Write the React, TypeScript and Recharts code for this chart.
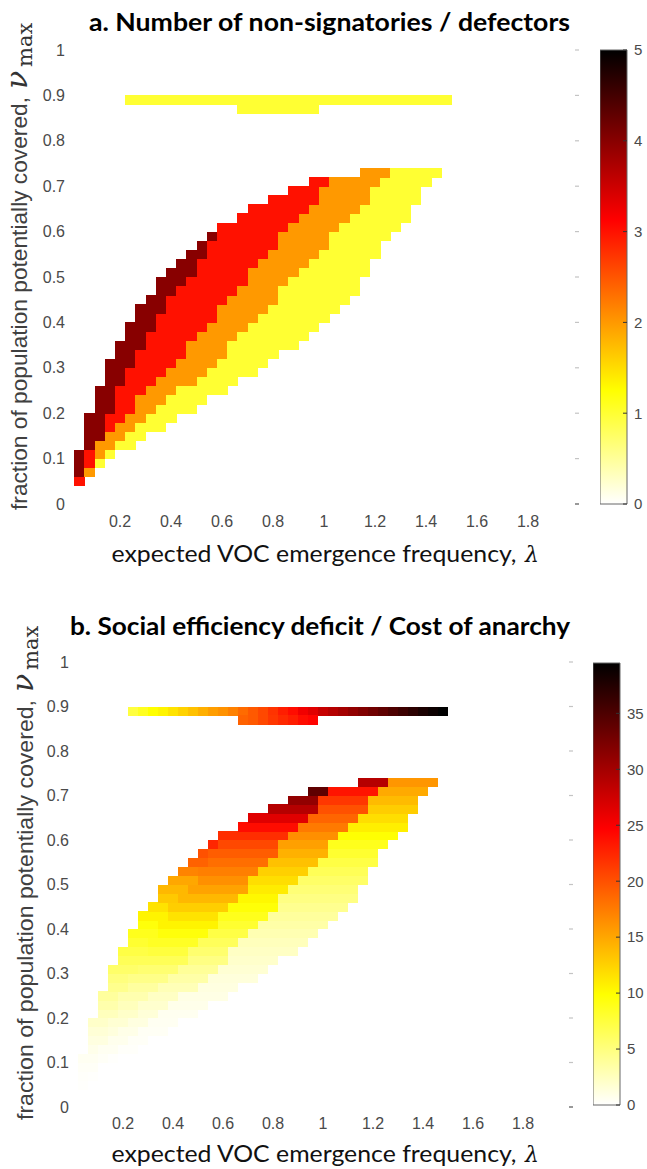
import React from "react";
import { ScatterChart, Scatter, XAxis, YAxis, BarChart, Bar } from "recharts";

// grid of the model runs: column k sits at lambda = 0.04*k, row j at v = 0.01 + 0.02*j
const columns = [
  1, 2, 3, 4, 5, 6, 7, 8, 9, 10, 11, 12, 13, 14, 15, 16, 17, 18, 19, 20, 21, 22, 23, 24, 25, 26,
  27, 28, 29, 30, 31, 32, 33, 34, 35, 36,
];

// panel a, main band: lowest coloured row per column, then the top row of each defector count
const bottomRow = [2, 3, 4, 5, 6, 6, 7, 8, 8, 9, 10, 10, 11, 12, 12, 13, 14, 14, 15, 16, 17, 17, 18, 19, 20, 21, 22, 23, 25, 27, 29, 30, 31, 33, 35, 36];
const topOf1 = [1, 2, 4, 5, 6, 7, 8, 9, 10, 11, 12, 12, 13, 14, 15, 17, 18, 19, 20, 21, 23, 24, 25, 26, 27, 29, 30, 31, 32, 34, 35, 36, 36, 36, 36, 36];
const topOf2 = [1, 3, 6, 7, 8, 9, 11, 12, 13, 14, 15, 17, 18, 19, 21, 22, 23, 25, 26, 27, 29, 30, 31, 32, 34, 35, 35, 35, 36, 36, 36, 36, 36, 36, 36, 36];
const topOf3 = [2, 5, 6, 9, 12, 14, 16, 18, 20, 22, 23, 24, 26, 28, 30, 30, 31, 32, 32, 33, 33, 34, 34, 35, 35, 35, 35, 35, 36, 36, 36, 36, 36, 36, 36, 36];
const topOf4 = [5, 9, 12, 15, 17, 19, 21, 22, 24, 25, 26, 27, 28, 29, 30, 30, 31, 32, 32, 33, 33, 34, 34, 35, 35, 35, 35, 35, 36, 36, 36, 36, 36, 36, 36, 36];

// panel b, main band: deficit read per row (j = 0..36) inside each defector stripe
const deficit1 = [0, 0, 0, 0, 0, 0.1, 0.2, 0.3, 0.4, 0.5, 0.6, 0.8, 1.0, 1.2, 1.4, 1.7, 2.0, 2.3, 2.6, 3.0, 3.4, 3.8, 4.3, 4.8, 5.3, 5.9, 6.5, 7.2, 8.0, 8.8, 9.8, 10.8, 11.8, 12.8, 13.8, 14.8, 16.0];
const deficit2 = [0, 0, 0, 0.1, 0.2, 0.3, 0.5, 0.7, 0.9, 1.2, 1.5, 1.9, 2.3, 2.8, 3.4, 4.0, 4.8, 5.6, 6.4, 7.2, 8.0, 8.8, 9.6, 10.3, 11.0, 11.8, 12.6, 13.5, 14.4, 15.4, 16.4, 17.6, 18.8, 20.0, 21.5, 23.5, 29.0];
const deficit3 = [0, 0, 0.1, 0.2, 0.3, 0.5, 0.7, 1.0, 1.3, 1.7, 2.1, 2.6, 3.1, 3.7, 4.6, 5.5, 6.5, 7.5, 8.5, 9.5, 10.5, 11.5, 12.7, 14.0, 15.2, 16.3, 17.3, 18.3, 19.3, 20.5, 22.0, 24.0, 26.5, 29.0, 31.0, 34.0, 0];
const deficit4 = [0, 0, 0, 0.2, 0.3, 0.5, 0.8, 1.2, 1.6, 2.1, 2.6, 3.2, 3.8, 4.4, 5.0, 5.8, 6.5, 7.2, 8.0, 8.8, 9.5, 10.5, 11.5, 13.0, 14.0, 15.0, 17.0, 19.0, 20.0, 22.5, 0, 0, 0, 0, 0, 0, 0];

// the two short rows near v = 0.9
const upperRow = 44;
const upperCols = [6, 7, 8, 9, 10, 11, 12, 13, 14, 15, 16, 17, 18, 19, 20, 21, 22, 23, 24, 25, 26, 27, 28, 29, 30, 31, 32, 33, 34, 35, 36, 37];
const upperDefectors = [1, 1, 1, 1, 1, 1, 1, 1, 1, 1, 1, 1, 1, 1, 1, 1, 1, 1, 1, 1, 1, 1, 1, 1, 1, 1, 1, 1, 1, 1, 1, 1];
const upperDeficit = [7.4, 8.6, 9.9, 10.5, 11.5, 12.5, 13.5, 14.5, 15.5, 16.2, 17.2, 18.5, 19.5, 20.5, 21.7, 23, 24, 25.5, 26.5, 28, 29, 30, 31, 32, 33, 34, 35, 36, 37, 38, 38.8, 39.5];
const lowerRow = 43;
const lowerCols = [17, 18, 19, 20, 21, 22, 23, 24];
const lowerDefectors = [1, 1, 1, 1, 1, 1, 1, 1];
const lowerDeficit = [19, 19.5, 20.5, 21.5, 22.3, 23, 24, 24.5];

const xTicks = [0.2, 0.4, 0.6, 0.8, 1, 1.2, 1.4, 1.6, 1.8];
const yTicks = [0, 0.1, 0.2, 0.3, 0.4, 0.5, 0.6, 0.7, 0.8, 0.9, 1];
const colorTicksA = [0, 1, 2, 3, 4, 5];
const colorTicksB = [0, 5, 10, 15, 20, 25, 30, 35];
const VMAX_A = 5;
const VMAX_B = 39.5;

const LAMBDA_STEP = 0.04;
const NU_STEP = 0.02;
const X_DOMAIN: [number, number] = [0, 2];
const Y_DOMAIN: [number, number] = [0, 1];

type Cell = { x: number; y: number; value: number };

const lam = (k: number) => Math.round(k * 4) / 100;
const nu = (j: number) => Math.round(1 + j * 2) / 100;
const deficitByCount = [[], deficit1, deficit2, deficit3, deficit4];

function buildCells() {
  const a: Cell[] = [];
  const b: Cell[] = [];
  columns.forEach((k, i) => {
    for (let j = bottomRow[i]; j <= topOf4[i]; j++) {
      const n = j <= topOf1[i] ? 1 : j <= topOf2[i] ? 2 : j <= topOf3[i] ? 3 : 4;
      a.push({ x: lam(k), y: nu(j), value: n });
      b.push({ x: lam(k), y: nu(j), value: deficitByCount[n][j] });
    }
  });
  upperCols.forEach((k, i) => {
    a.push({ x: lam(k), y: nu(upperRow), value: upperDefectors[i] });
    b.push({ x: lam(k), y: nu(upperRow), value: upperDeficit[i] });
  });
  lowerCols.forEach((k, i) => {
    a.push({ x: lam(k), y: nu(lowerRow), value: lowerDefectors[i] });
    b.push({ x: lam(k), y: nu(lowerRow), value: lowerDeficit[i] });
  });
  return { a, b };
}
const { a: cellsA, b: cellsB } = buildCells();

// flipped "hot" colormap: white -> yellow -> red -> black
function hot(value: number, vmax: number) {
  const t = 1 - Math.min(Math.max(value / vmax, 0), 1);
  const r = Math.min(1, t / 0.375);
  const g = Math.min(1, Math.max(0, (t - 0.375) / 0.375));
  const b = Math.min(1, Math.max(0, (t - 0.75) / 0.25));
  return `rgb(${Math.round(r * 255)},${Math.round(g * 255)},${Math.round(b * 255)})`;
}

const SANS = "'Liberation Sans', Arial, sans-serif";
const CALIBRI = "Lato, 'Open Sans', sans-serif";
const SERIF = "'DejaVu Serif', 'Liberation Serif', serif";
const tickStyle = { fontSize: 16, fill: "#4a4a4a", fontFamily: SANS };

const GEO_A = { top: 0, height: 580, plotLeft: 69, plotRight: 579, plotTop: 50, plotBottom: 504, xTickGap: 12 };
const GEO_B = { top: 580, height: 589, plotLeft: 73, plotRight: 573, plotTop: 82, plotBottom: 527, xTickGap: 11 };
const CB_A = { left: 600, top: 0, height: 580, barWidth: 27, labelWidth: 40, barTop: 50, barBottom: 504 };
const CB_B = { left: 593, top: 580, height: 589, barWidth: 27, labelWidth: 44, barTop: 83, barBottom: 525 };

type Geo = typeof GEO_A;

function Heatmap({ geo, cells, vmax }: { geo: Geo; cells: Cell[]; vmax: number }) {
  const plotW = geo.plotRight - geo.plotLeft;
  const plotH = geo.plotBottom - geo.plotTop;
  const cw = (plotW * LAMBDA_STEP) / (X_DOMAIN[1] - X_DOMAIN[0]);
  const ch = (plotH * NU_STEP) / (Y_DOMAIN[1] - Y_DOMAIN[0]);
  const shape = (p: any) => (
    <rect
      x={p.cx - cw / 2}
      y={p.cy - ch / 2}
      width={cw + 0.4}
      height={ch + 0.4}
      fill={hot(p.payload.value, vmax)}
      shapeRendering="crispEdges"
    />
  );
  // y tick: the gray label on the left plus a short light dash inside the right edge
  const yTick = (p: any) => (
    <g>
      <text x={p.x} y={p.y} dy="0.355em" textAnchor="end" {...tickStyle}>
        {p.payload.value}
      </text>
      <line
        x1={geo.plotRight - 4}
        x2={geo.plotRight}
        y1={p.y}
        y2={p.y}
        stroke={p.payload.value === 0 ? "#555" : "#c4c4c4"}
        strokeWidth={1.2}
      />
    </g>
  );
  return (
    <div style={{ position: "absolute", left: 0, top: geo.top }}>
      <ScatterChart
        width={647}
        height={geo.height}
        margin={{ top: geo.plotTop, right: 647 - geo.plotRight, bottom: 0, left: 0 }}
      >
        <XAxis
          type="number"
          dataKey="x"
          domain={X_DOMAIN}
          ticks={xTicks}
          interval={0}
          height={geo.height - geo.plotBottom}
          axisLine={false}
          tickLine={false}
          tickSize={0}
          tickMargin={geo.xTickGap}
          tick={tickStyle}
          allowDataOverflow
        />
        <YAxis
          type="number"
          dataKey="y"
          domain={Y_DOMAIN}
          ticks={yTicks}
          interval={0}
          width={geo.plotLeft}
          axisLine={false}
          tickLine={false}
          tickSize={0}
          tickMargin={4}
          tick={yTick}
          allowDataOverflow
        />
        <Scatter data={cells} shape={shape} isAnimationActive={false} />
      </ScatterChart>
    </div>
  );
}

function ColorBar({ geo, ticks, vmax, id }: { geo: typeof CB_A; ticks: number[]; vmax: number; id: string }) {
  const gap = 7;
  const barTick = (p: any) => (
    <g>
      <line x1={p.x - gap - 4} x2={p.x - gap} y1={p.y} y2={p.y} stroke="#333" strokeWidth={1} />
      <text x={p.x} y={p.y} dy="0.355em" textAnchor="start" fontSize={15} fill="#4a4a4a" fontFamily={SANS}>
        {p.payload.value}
      </text>
    </g>
  );
  return (
    <div style={{ position: "absolute", left: geo.left, top: geo.top }}>
      <BarChart
        width={geo.barWidth + geo.labelWidth}
        height={geo.height}
        margin={{ top: geo.barTop, bottom: geo.height - geo.barBottom, left: 0, right: 0 }}
        data={[{ scale: "c", top: vmax }]}
        barCategoryGap={0}
      >
        <defs>
          <linearGradient id={id} x1="0" y1="0" x2="0" y2="1">
            <stop offset="0" stopColor="#000000" />
            <stop offset="0.375" stopColor="#ff0000" />
            <stop offset="0.75" stopColor="#ffff00" />
            <stop offset="1" stopColor="#ffffff" />
          </linearGradient>
        </defs>
        <XAxis dataKey="scale" hide />
        <YAxis
          type="number"
          orientation="right"
          domain={[0, vmax]}
          ticks={ticks}
          interval={0}
          width={geo.labelWidth}
          axisLine={false}
          tickLine={false}
          tickSize={0}
          tickMargin={gap}
          tick={barTick}
        />
        <Bar dataKey="top" fill={`url(#${id})`} stroke="#666666" strokeWidth={1} isAnimationActive={false} />
      </BarChart>
    </div>
  );
}

function XLabel({ y }: { y: number }) {
  return (
    <g>
      <text x={111.5} y={y} fontFamily={CALIBRI} fontSize={24} fill="#111" textLength={405} lengthAdjust="spacingAndGlyphs">
        expected VOC emergence frequency,
      </text>
      <text x={525} y={y} fontFamily={SERIF} fontStyle="italic" fontSize={22} fill="#111">
        λ
      </text>
    </g>
  );
}

function YLabel({ x, y, len }: { x: number; y: number; len: number }) {
  return (
    <g transform={`translate(${x},${y}) rotate(-90)`}>
      <text x={0} y={0} fontFamily={SANS} fontSize={22} fill="#404040" textLength={len} lengthAdjust="spacingAndGlyphs">
        fraction of population potentially covered,
      </text>
      <text x={len + 8} y={0} fontFamily={SERIF} fontStyle="italic" fontSize={30} fill="#333">
        ν
      </text>
      <text x={len + 30} y={5} fontFamily={SERIF} fontSize={21} fill="#333">
        max
      </text>
    </g>
  );
}

function Annotations() {
  return (
    <svg
      width={647}
      height={1169}
      style={{ position: "absolute", left: 0, top: 0, pointerEvents: "none" }}
    >
      <text x={329.5} y={31} textAnchor="middle" fontFamily={CALIBRI} fontWeight={700} fontSize={25} fill="#000" textLength={481} lengthAdjust="spacingAndGlyphs">
        a. Number of non-signatories / defectors
      </text>
      <text x={320} y={635} textAnchor="middle" fontFamily={CALIBRI} fontWeight={700} fontSize={25} fill="#000" textLength={500} lengthAdjust="spacingAndGlyphs">
        b. Social efficiency deficit / Cost of anarchy
      </text>
      <XLabel y={562} />
      <XLabel y={1162} />
      <YLabel x={27} y={510} len={413} />
      <YLabel x={33} y={1120} len={420} />
    </svg>
  );
}

export default function App() {
  return (
    <div
      style={{
        position: "absolute",
        left: 0,
        top: 0,
        width: 647,
        height: 1169,
        background: "#ffffff",
        overflow: "hidden",
      }}
    >
      <Heatmap geo={GEO_A} cells={cellsA} vmax={VMAX_A} />
      <ColorBar geo={CB_A} ticks={colorTicksA} vmax={VMAX_A} id="hotA" />
      <Heatmap geo={GEO_B} cells={cellsB} vmax={VMAX_B} />
      <ColorBar geo={CB_B} ticks={colorTicksB} vmax={VMAX_B} id="hotB" />
      <Annotations />
    </div>
  );
}
